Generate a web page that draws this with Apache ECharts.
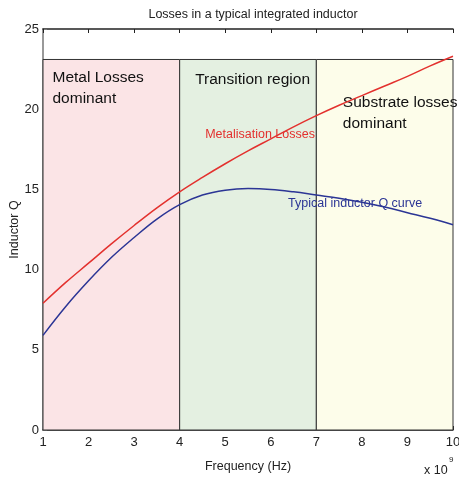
<!DOCTYPE html>
<html><head><meta charset="utf-8">
<script src="https://cdn.jsdelivr.net/npm/echarts@6/dist/echarts.min.js"></script>
<style>html,body{margin:0;padding:0;background:#fff}#c{width:459px;height:484px}</style>
</head><body><div id="c"></div>
<script>
const freq = [1,1.5,2,2.5,3,3.5,4,4.5,5,5.5,6,6.5,7,7.5,8,8.5,9,9.5,10];
const metalisation = [7.9,9.2,10.4,11.6,12.75,13.85,14.85,15.75,16.6,17.4,18.15,18.9,19.6,20.25,20.85,21.45,22.05,22.7,23.3];
const qCurve = [5.9,7.7,9.3,10.75,12.0,13.15,14.05,14.65,14.95,15.05,15.0,14.85,14.65,14.45,14.2,13.9,13.55,13.2,12.8];
const regions = [[1,4],[4,7],[7,10]];
const regionTop = 23.1;
const regionNames = ['Metal Losses\ndominant','Transition region','Substrate losses\ndominant'];
const regionColors = ['#fbe4e6','#e4f0e1','#fdfdea'];
const regionOffsets = [[10,8],[16,10],[27,33]];
const xTicks = [1,2,3,4,5,6,7,8,9,10];
const yTicks = [0,5,10,15,20,25];

const font = '"Liberation Sans", Arial, sans-serif';
const chart = echarts.init(document.getElementById('c'));
chart.setOption({
  animation:false,
  title:{text:'Losses in a typical integrated inductor',left:248,top:3,textAlign:'center',
    textStyle:{fontFamily:font,fontSize:12.5,fontWeight:'normal',color:'#222'}},
  grid:{left:43,right:6,top:29,bottom:54,outerBoundsMode:'none',containLabel:false},
  xAxis:[{type:'value',min:xTicks[0],max:xTicks[xTicks.length-1],interval:1,
    name:'Frequency (Hz)',nameLocation:'middle',nameGap:30,
    nameTextStyle:{fontFamily:font,fontSize:12.5,color:'#222'},
    axisLine:{lineStyle:{color:'#222',width:1.5}},
    axisTick:{inside:true,length:4,lineStyle:{color:'#222'}},
    axisLabel:{fontFamily:font,fontSize:13,color:'#222',margin:6},
    splitLine:{show:false}},
   {type:'value',position:'top',min:xTicks[0],max:xTicks[xTicks.length-1],interval:1,
    axisLine:{show:true,lineStyle:{color:'#222',width:1.5}},
    axisTick:{inside:true,length:4,lineStyle:{color:'#222'}},
    axisLabel:{show:false},splitLine:{show:false}}],
  yAxis:{type:'value',min:yTicks[0],max:yTicks[yTicks.length-1],interval:5,
    name:'Inductor Q',nameLocation:'middle',nameGap:22,nameMoveOverlap:false,
    nameTextStyle:{fontFamily:font,fontSize:12.5,color:'#222'},
    axisLine:{show:true,lineStyle:{color:'#777',width:1.5}},
    axisTick:{show:true,inside:true,length:4,lineStyle:{color:'#777'}},
    axisLabel:{fontFamily:font,fontSize:13,color:'#222',margin:4},
    splitLine:{show:false}},
  graphic:[{type:'text',left:424,top:464,style:{text:'x 10',fontFamily:font,fontSize:12.5,fill:'#222'}},
    {type:'text',left:449,top:456,style:{text:'9',fontFamily:font,fontSize:8,fill:'#222'}}],
  series:[
   {type:'line',name:'Metalisation Losses',data:freq.map((f,i)=>[f,metalisation[i]]),
    showSymbol:false,smooth:0.4,lineStyle:{color:'#e3312e',width:1.5},z:3,
    markArea:{silent:true,
      data:regions.map((r,i)=>[{xAxis:r[0],yAxis:0,name:regionNames[i],
        itemStyle:{color:regionColors[i],borderColor:'#333',borderWidth:1},
        label:{show:true,position:'insideTopLeft',offset:[regionOffsets[i][0]-5,regionOffsets[i][1]-5],
          fontFamily:font,fontSize:15.5,color:'#111',lineHeight:21}},
        {xAxis:r[1],yAxis:regionTop}])},
    markPoint:{symbol:'circle',symbolSize:0,silent:true,
      data:[{coord:[4.56,18.4],label:{show:true,position:'right',distance:0,formatter:'Metalisation Losses',
        fontFamily:font,fontSize:12.5,color:'#e3312e'}}]}},
   {type:'line',name:'Typical inductor Q curve',data:freq.map((f,i)=>[f,qCurve[i]]),
    showSymbol:false,smooth:0.4,lineStyle:{color:'#2b3595',width:1.5},z:3,
    markPoint:{symbol:'circle',symbolSize:0,silent:true,
      data:[{coord:[6.38,14.1],label:{show:true,position:'right',distance:0,formatter:'Typical inductor Q curve',
        fontFamily:font,fontSize:12.5,color:'#2b3595'}}]}}
  ]
});
</script></body></html>
